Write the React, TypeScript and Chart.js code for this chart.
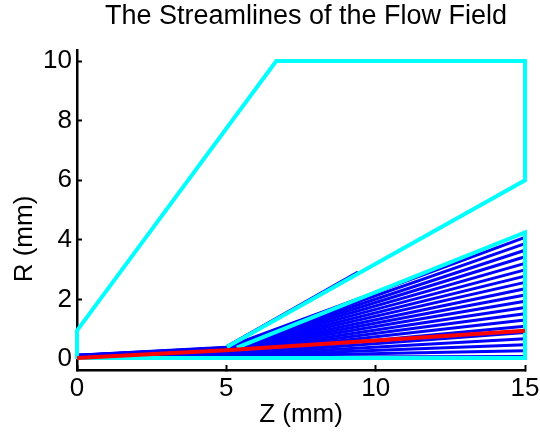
import React, { useEffect, useRef } from 'react';
import { Chart, registerables } from 'chart.js';

Chart.register(...registerables);

const FONT = "'Liberation Sans', Arial, Helvetica, sans-serif";

const TITLE = 'The Streamlines of the Flow Field';
const X_LABEL = 'Z (mm)';
const Y_LABEL = 'R (mm)';

const xTickValues = [0, 5, 10, 15];
const yTickValues = [0, 2, 4, 6, 8, 10];

// Streamlines: radius R (mm) at the stations Z = 0, 5, 15 mm
const streamStations = [0, 5, 15];
const streamR0 = [0.04, 0.045, 0.05, 0.055, 0.06, 0.065, 0.07, 0.075, 0.08, 0.085, 0.09, 0.095, 0.1, 0.105, 0.11, 0.113, 0.116, 0.119, 0.122, 0.125];
const streamR5 = [0.06, 0.08, 0.1, 0.12, 0.14, 0.16, 0.18, 0.2, 0.22, 0.24, 0.26, 0.28, 0.3, 0.32, 0.34, 0.35, 0.36, 0.37, 0.38, 0.39];
const streamR15 = [0.08, 0.28, 0.48, 0.68, 0.89, 1.1, 1.31, 1.52, 1.73, 1.94, 2.15, 2.36, 2.57, 2.78, 2.99, 3.21, 3.43, 3.65, 3.87, 4.08];

// Streamline along the outer wall
const wallStreamZ = [5.0, 9.4];
const wallStreamR = [0.43, 2.93];

// Highlighted (red) streamline
const redStreamZ = [0, 5, 15];
const redStreamR = [0.03, 0.29, 0.95];

// Boundaries (cyan)
const outerWallZ = [0, 0, 6.67, 15, 15, 5.02];
const outerWallR = [0, 0.95, 10, 10, 6, 0.4];
const innerWallZ = [5.35, 15, 15, 0];
const innerWallR = [0.38, 4.25, 0.03, 0.03];

const toPoints = (xs: number[], ys: number[]) => xs.map((x, i) => ({ x, y: ys[i] }));

const labelPlugin = {
  id: 'axisLabels',
  afterDraw(chart: any) {
    const { ctx, chartArea } = chart;
    ctx.save();
    ctx.fillStyle = '#000';
    ctx.textAlign = 'center';
    ctx.textBaseline = 'alphabetic';
    const cx = (chartArea.left + chartArea.right) / 2;
    ctx.font = `27px ${FONT}`;
    ctx.fillText(TITLE, cx + 5, 24);
    ctx.font = `26px ${FONT}`;
    ctx.fillText(X_LABEL, cx, 422);
    ctx.translate(32, 239);
    ctx.rotate(-Math.PI / 2);
    ctx.fillText(Y_LABEL, 0, 0);
    ctx.restore();
  },
};

export default function App() {
  const canvasRef = useRef<HTMLCanvasElement | null>(null);

  useEffect(() => {
    if (!canvasRef.current) return;
    const line = (data: any[], color: string, width: number, order: number) => ({
      data,
      showLine: true,
      borderColor: color,
      backgroundColor: color,
      borderWidth: width,
      pointRadius: 0,
      pointHoverRadius: 0,
      fill: false,
      tension: 0,
      borderJoinStyle: 'miter',
      borderCapStyle: 'butt',
      clip: false,
      order,
    });

    const datasets: any[] = [];
    datasets.push(line(toPoints(redStreamZ, redStreamR), '#ff0000', 4, 0));
    datasets.push(line(toPoints(outerWallZ, outerWallR), '#00ffff', 4, 1));
    datasets.push(line(toPoints(innerWallZ, innerWallR), '#00ffff', 4, 1));
    datasets.push(line(toPoints(wallStreamZ, wallStreamR), '#0000ff', 2, 2));
    streamR0.forEach((r0, i) => {
      const rs = [r0, streamR5[i], streamR15[i]];
      datasets.push(line(toPoints(streamStations, rs), '#0000ff', 3, 2));
    });

    const axisCommon = (ticks: number[]) => ({
      type: 'linear',
      afterBuildTicks: (s: any) => {
        s.ticks = ticks.map((v) => ({ value: v }));
      },
      grid: {
        drawOnChartArea: false,
        drawTicks: true,
        tickLength: -5,
        tickWidth: 2,
        color: '#000',
      },
      border: { display: true, color: '#000', width: 2.5 },
      title: { display: false },
    });

    const chart = new Chart(canvasRef.current, {
      type: 'scatter',
      data: { datasets },
      options: {
        animation: false,
        responsive: true,
        maintainAspectRatio: false,
        events: [],
        layout: { autoPadding: false, padding: { top: 50, left: 0, right: 15, bottom: 0 } },
        plugins: {
          legend: { display: false },
          tooltip: { enabled: false },
          title: { display: false },
        },
        scales: {
          x: {
            ...axisCommon(xTickValues),
            position: 'bottom',
            min: 0,
            max: 15,
            ticks: {
              font: { size: 26, family: FONT },
              color: '#000',
              padding: 8,
              maxRotation: 0,
              autoSkip: false,
            },
            afterFit: (s: any) => {
              s.height = 64;
              s.paddingLeft = 0;
              s.paddingRight = 0;
            },
          },
          y: {
            ...axisCommon(yTickValues),
            position: 'left',
            min: -0.37,
            max: 10.37,
            ticks: {
              font: { size: 26, family: FONT },
              color: '#000',
              padding: 10,
              autoSkip: false,
            },
            afterFit: (s: any) => {
              s.width = 77;
              s.paddingTop = 0;
              s.paddingBottom = 0;
            },
          },
        },
      } as any,
      plugins: [labelPlugin],
    });
    return () => chart.destroy();
  }, []);

  return (
    <div style={{ position: 'fixed', left: 0, top: 0, width: 540, height: 434, background: '#fff' }}>
      <canvas ref={canvasRef} />
    </div>
  );
}
